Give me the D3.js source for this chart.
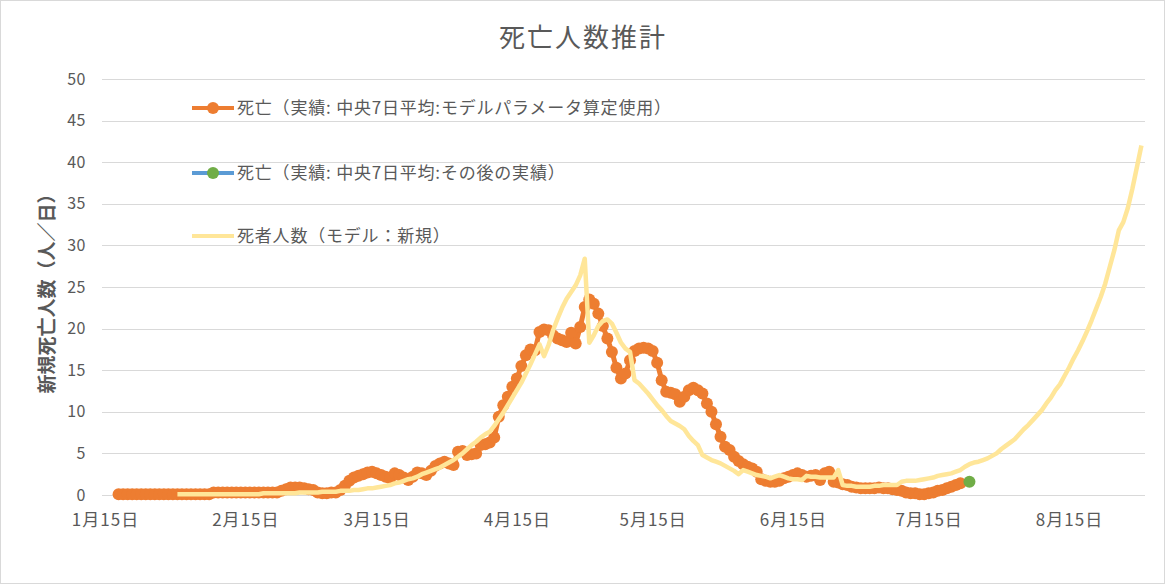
<!DOCTYPE html>
<html>
<head>
<meta charset="utf-8">
<script src="https://cdn.jsdelivr.net/npm/d3@7"></script>
<style>
  body { margin: 0; background: #fff; }
  svg { display: block; font-family: "Noto Sans CJK JP", "Noto Sans", sans-serif; }
</style>
</head>
<body>
<svg id="chart" width="1166" height="586"></svg>
<script>
// series values, one per day starting at the given date
var actualStart = "2020-01-18";
var actualVals = [
  0.1, 0.1, 0.1, 0.1, 0.1, 0.1, 0.1, 0.1, 0.1, 0.1,
  0.1, 0.1, 0.1, 0.1, 0.1, 0.1, 0.1, 0.1, 0.1, 0.1,
  0.1, 0.3, 0.3, 0.3, 0.3, 0.3, 0.3, 0.3, 0.3, 0.3,
  0.3, 0.3, 0.3, 0.3, 0.3, 0.3, 0.5, 0.7, 0.9, 0.9,
  0.9, 0.8, 0.7, 0.6, 0.3, 0.2, 0.2, 0.3, 0.3, 0.6,
  1.1, 1.7, 2.1, 2.3, 2.5, 2.7, 2.8, 2.6, 2.4, 2.2,
  2.0, 2.6, 2.4, 2.1, 1.8, 2.2, 2.7, 2.6, 2.4, 2.9,
  3.5, 3.8, 4.0, 3.8, 3.6, 5.2, 5.3, 4.8, 4.9, 5.0,
  6.0, 6.1, 6.3, 6.9, 9.4, 10.8, 11.8, 13.0, 14.0, 15.5,
  16.8, 17.5, 17.4, 19.6, 19.9, 19.8, 19.2, 18.8, 18.6, 18.4,
  19.5, 18.2, 20.2, 22.6, 23.5, 23.0, 21.8, 20.3, 18.8, 17.2,
  15.3, 14.0, 14.6, 16.2, 17.3, 17.6, 17.7, 17.6, 17.3, 15.9,
  13.8, 12.4, 12.3, 12.1, 11.2, 11.8, 12.6, 12.9, 12.6, 12.2,
  11.0, 10.0, 8.5, 7.0, 5.8, 5.4, 4.6, 4.1, 3.7, 3.4,
  3.2, 2.8, 1.9, 1.7, 1.6, 1.6, 1.7, 2.0, 2.2, 2.4,
  2.6, 2.4, 2.2, 2.3, 2.4, 1.8, 2.6, 2.8, 1.6, 1.5,
  1.3, 1.2, 1.0, 0.9, 0.8, 0.8, 0.8, 0.8, 0.9, 0.8,
  0.8, 0.7, 0.6, 0.5, 0.3, 0.2, 0.2, 0.1, 0.1, 0.2,
  0.3, 0.5, 0.6, 0.8, 1.0, 1.2, 1.4
];

var laterStart = "2020-07-24";
var laterVals = [1.6];

var modelStart = "2020-01-31";
var modelVals = [
  0.1, 0.1, 0.1, 0.1, 0.1, 0.1, 0.1, 0.1, 0.1, 0.1, 0.1, 0.1, 0.1, 0.1,
  0.1, 0.1, 0.1, 0.1, 0.1, 0.2, 0.2, 0.2, 0.2, 0.2,
  0.2, 0.2, 0.2, 0.3, 0.3, 0.3, 0.3, 0.3, 0.4, 0.4,
  0.4, 0.4, 0.5, 0.5, 0.5, 0.6, 0.6, 0.7, 0.8, 0.8,
  0.9, 1.0, 1.1, 1.2, 1.4, 1.5, 1.7, 1.9, 2.0, 2.2,
  2.5, 2.7, 2.9, 3.1, 3.3, 3.6, 3.9, 4.2, 4.6, 5.0,
  5.5, 6.0, 6.4, 6.9, 7.3, 7.6, 8.3, 9.1, 9.9, 10.8,
  11.7, 12.6, 13.5, 14.6, 15.7, 16.9, 18.1, 16.7, 18.0, 19.8,
  21.2, 22.5, 23.6, 24.4, 25.2, 26.4, 28.4, 18.3, 19.2, 20.3,
  20.9, 21.1, 20.6, 19.5, 18.3, 17.6, 17.2, 13.8, 13.4, 12.8,
  12.2, 11.5, 10.8, 10.2, 9.5, 8.9, 8.6, 8.3, 7.9, 7.1,
  6.5, 6.0, 4.8, 4.5, 4.2, 4.0, 3.8, 3.5, 3.2, 2.9,
  2.5, 3.0, 2.8, 2.6, 2.4, 2.3, 2.2, 2.0, 2.2, 2.4,
  2.2, 2.0, 1.9, 1.9, 1.8, 2.3, 2.2, 2.2, 2.1, 2.1,
  2.1, 2.1, 3.0, 1.2, 1.1, 1.1, 1.0, 1.0, 1.0, 1.0,
  1.1, 1.1, 1.2, 1.2, 1.2, 1.2, 1.6, 1.7, 1.7, 1.7,
  1.8, 1.9, 2.0, 2.1, 2.3, 2.4, 2.5, 2.6, 2.8, 3.0,
  3.4, 3.7, 3.9, 4.0, 4.2, 4.4, 4.7, 5.0, 5.5, 5.9,
  6.3, 6.7, 7.3, 7.9, 8.4, 9.0, 9.6, 10.2, 11.0, 11.7,
  12.6, 13.3, 14.3, 15.3, 16.4, 17.4, 18.5, 19.7, 21.0, 22.4,
  23.8, 25.4, 27.4, 29.4, 31.8, 32.8, 34.5, 36.8, 39.4, 42.0
];

var tickDates = ["2020-01-15", "2020-02-15", "2020-03-15", "2020-04-15",
                 "2020-05-15", "2020-06-15", "2020-07-15", "2020-08-15"];
var tickLabels = ["1月15日", "2月15日", "3月15日", "4月15日",
                  "5月15日", "6月15日", "7月15日", "8月15日"];
var yTicks = [0, 5, 10, 15, 20, 25, 30, 35, 40, 45, 50];

var seriesNames = ["死亡（実績: 中央7日平均:モデルパラメータ算定使用）",
                   "死亡（実績: 中央7日平均:その後の実績）",
                   "死者人数（モデル：新規）"];

var parse = d3.timeParse("%Y-%m-%d");

function toPoints(start, vals) {
  var s = parse(start);
  return vals.map(function(v, i) { return {date: d3.timeDay.offset(s, i), value: v}; });
}

var actual = toPoints(actualStart, actualVals),
    later = toPoints(laterStart, laterVals),
    model = toPoints(modelStart, modelVals);

var svg = d3.select("#chart");
var textColor = "#595959", gridColor = "#d9d9d9";

// outer frame
svg.append("rect")
  .attr("x", 0.5).attr("y", 0.5)
  .attr("width", 1164).attr("height", 583)
  .attr("fill", "#fff").attr("stroke", gridColor);

var x = d3.scaleTime()
  .domain([new Date(2020, 0, 14, 8), new Date(2020, 7, 31, 19)])
  .range([102, 1145]);

var y = d3.scaleLinear()
  .domain([0, 50])
  .range([495, 79]);

// gridlines
svg.append("g")
  .selectAll("line")
  .data(yTicks)
  .enter().append("line")
    .attr("x1", 102).attr("x2", 1145)
    .attr("y1", function(d) { return Math.round(y(d)) + 0.5; })
    .attr("y2", function(d) { return Math.round(y(d)) + 0.5; })
    .attr("stroke", gridColor).attr("stroke-width", 1);

// y axis labels
var yAxis = d3.axisLeft(y).tickValues(yTicks).tickSize(0).tickPadding(0);
var gy = svg.append("g")
  .attr("transform", "translate(86,0)")
  .call(yAxis);
gy.select(".domain").remove();
gy.selectAll("text")
  .attr("fill", textColor)
  .style("font-size", "16px")
  .style("letter-spacing", "0.5px")
  .style("font-family", "'Noto Sans CJK JP', sans-serif");

// x axis labels
var xAxis = d3.axisBottom(x)
  .tickValues(tickDates.map(parse))
  .tickFormat(function(d, i) { return tickLabels[i]; })
  .tickSize(0).tickPadding(0);
var gx = svg.append("g")
  .attr("transform", "translate(0,514)")
  .call(xAxis);
gx.select(".domain").remove();
gx.selectAll("text")
  .attr("fill", textColor)
  .style("font-size", "17px")
  .style("letter-spacing", "1px")
  .style("font-family", "'Noto Sans CJK JP', sans-serif");

var line = d3.line()
  .x(function(d) { return x(d.date); })
  .y(function(d) { return y(d.value); });

// actual (orange)
svg.append("path")
  .datum(actual)
  .attr("fill", "none")
  .attr("stroke", "#ed7d31")
  .attr("stroke-width", 5)
  .attr("stroke-linejoin", "round")
  .attr("d", line);

svg.append("g")
  .selectAll("circle")
  .data(actual)
  .enter().append("circle")
    .attr("cx", function(d) { return x(d.date); })
    .attr("cy", function(d) { return y(d.value); })
    .attr("r", 6)
    .attr("fill", "#ed7d31");

// later actual (green marker on blue line)
svg.append("path")
  .datum(later)
  .attr("fill", "none")
  .attr("stroke", "#5b9bd5")
  .attr("stroke-width", 4)
  .attr("d", line);

svg.append("g")
  .selectAll("circle")
  .data(later)
  .enter().append("circle")
    .attr("cx", function(d) { return x(d.date); })
    .attr("cy", function(d) { return y(d.value); })
    .attr("r", 6)
    .attr("fill", "#70ad47");

// model (yellow)
svg.append("path")
  .datum(model)
  .attr("fill", "none")
  .attr("stroke", "#ffe699")
  .attr("stroke-width", 4.5)
  .attr("stroke-linejoin", "round")
  .attr("d", line);

// legend
var legendColors = [["#ed7d31", "#ed7d31"], ["#5b9bd5", "#70ad47"], ["#ffe699", null]];
var legendY = [108, 173, 236];

var lg = svg.append("g")
  .selectAll("g")
  .data(seriesNames)
  .enter().append("g")
    .attr("transform", function(d, i) { return "translate(192," + legendY[i] + ")"; });

lg.append("line")
  .attr("x1", 0).attr("x2", 42)
  .attr("stroke", function(d, i) { return legendColors[i][0]; })
  .attr("stroke-width", 4);

lg.filter(function(d, i) { return legendColors[i][1]; })
  .append("circle")
  .attr("cx", 21).attr("r", 6)
  .attr("fill", function(d) { return d === seriesNames[0] ? "#ed7d31" : "#70ad47"; });

lg.append("text")
  .attr("x", 45)
  .attr("dy", "0.35em")
  .attr("fill", textColor)
  .style("font-size", "17px")
  .style("letter-spacing", "0.8px")
  .text(function(d) { return d; });

// title
svg.append("text")
  .attr("x", 583).attr("y", 47)
  .attr("text-anchor", "middle")
  .attr("fill", textColor)
  .style("font-size", "26px")
  .style("letter-spacing", "2px")
  .text("死亡人数推計");

// y axis title
svg.append("text")
  .attr("transform", "translate(54,289) rotate(-90)")
  .attr("text-anchor", "middle")
  .attr("fill", textColor)
  .style("font-size", "19px")
  .style("font-weight", "bold")
  .text("新規死亡人数（人／日）");
</script>
</body>
</html>
